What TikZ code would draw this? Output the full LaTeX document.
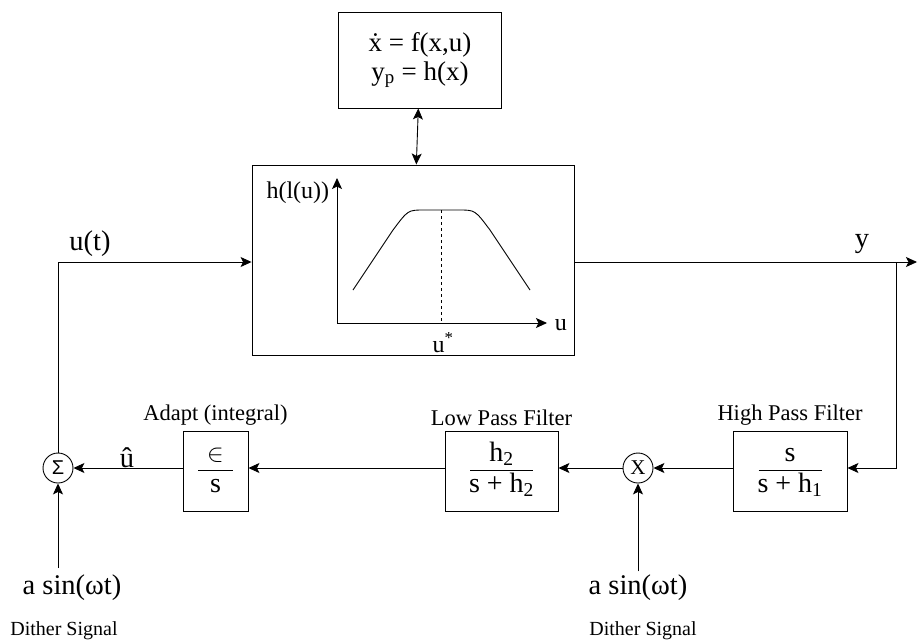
\documentclass[tikz,border=0pt]{standalone}
\usepackage{fontspec}
\setmainfont{Liberation Serif}
\newfontfamily\symfont{Liberation Sans}
\usetikzlibrary{arrows.meta}

\newcommand{\blockfrac}[3]{$\vcenter{\hbox to #3{\hss\strut #1\hss}\kern0pt
  \hrule height 0.9pt\kern2pt\hbox to #3{\hss\strut #2\hss}}$}

\begin{document}
\begin{tikzpicture}[x=1pt,y=-1pt,->,>={Stealth[length=11pt,width=10pt,inset=2.5pt]},line width=0.9pt,
  block/.style={draw,rectangle,minimum height=80pt,inner sep=0pt,font=\fontsize{28}{28}\selectfont},
  junction/.style={draw,circle,minimum size=30pt,inner sep=0pt},
  small label/.style={font=\fontsize{22.5}{24}\selectfont},
  dither label/.style={font=\fontsize{20}{24}\selectfont},
  signal/.style={font=\fontsize{28.5}{30}\selectfont}]
  \useasboundingbox (0,0) rectangle (918,643);

  % plant model and static map
  \node[block, minimum width=163pt, minimum height=96pt, align=center,
        font=\fontsize{27}{29}\selectfont] (model) at (420,60)
        {\.{x} = f(x,u)\\y\textsubscript{p} = h(x)};
  \node[block, minimum width=322pt, minimum height=190pt] (plant) at (413,260) {};
  \draw[<->] (model) -- (plant);

  % map inside the plant
  \coordinate (origin) at (337,323);
  \draw (origin) -- (337,178);
  \draw (origin) -- (547,323);
  \draw[-] (353,290) -- (393,230) .. controls (408,210) .. (424,210) -- (459,210)
    .. controls (475,210) .. (490,230) -- (530,290);
  \draw[-,dashed] (441,210) -- (441,323);
  \node[font=\fontsize{24}{26}\selectfont, anchor=east] (hl) at (333,193) {h(l(u))};
  \node[font=\fontsize{24}{26}\selectfont, anchor=west] (ulab) at (551,325) {u};
  \node[font=\fontsize{24}{26}\selectfont] (ustar) at (443,343) {u\textsuperscript{*}};

  % extremum seeking loop
  \node[block, minimum width=114pt] (hpf) at (790,471)
    {\blockfrac{s}{s + h\textsubscript{1}}{63pt}};
  \node[junction] (mult) at (638,468) {\fontsize{21}{21}\selectfont X};
  \node[block, minimum width=113pt] (lpf) at (501.5,471)
    {\blockfrac{h\textsubscript{2}}{s + h\textsubscript{2}}{63pt}};
  \node[block, minimum width=65pt] (adapt) at (215.5,471)
    {\blockfrac{$\in$}{s}{35pt}};
  \node[junction] (sum) at (58,468) {\fontsize{20}{20}\symfont Σ};

  \node[small label, above=1pt] at (hpf.north) {High Pass Filter};
  \node[small label, above=1pt] at (lpf.north) {Low Pass Filter};
  \node[small label, above=1pt] at (adapt.north) {Adapt (integral)};

  \coordinate (corner) at (58,262);
  \coordinate (output) at (917,262);
  \coordinate (branch) at (896,262);
  \coordinate (down) at (896,468);

  \draw[-] (sum) -- (corner);
  \draw (corner) -- (corner -| plant.west);
  \draw (plant.east |- output) -- (output);
  \draw (branch) -- (down) -- (hpf.east |- down);
  \draw (hpf.west |- mult) -- (mult);
  \draw (mult) -- (lpf.east |- mult);
  \draw (lpf.west |- mult) -- (adapt.east |- mult);
  \draw (adapt.west |- sum) -- (sum);

  \node[signal] (ut) at (90,244) {u(t)};
  \node[signal] (ylab) at (862,244) {y};
  \node[signal] (uhat) at (127,458) {û};

  % dither signals
  \node[signal] (dither1) at (72,588) {a sin(ωt)};
  \node[dither label] (dname1) at (64,631) {Dither Signal};
  \node[signal] (dither2) at (638,588) {a sin(ωt)};
  \node[dither label] (dname2) at (643,631) {Dither Signal};
  \draw (58,568) -- (sum);
  \draw (dither2.north) -- (mult);
\end{tikzpicture}
\end{document}
